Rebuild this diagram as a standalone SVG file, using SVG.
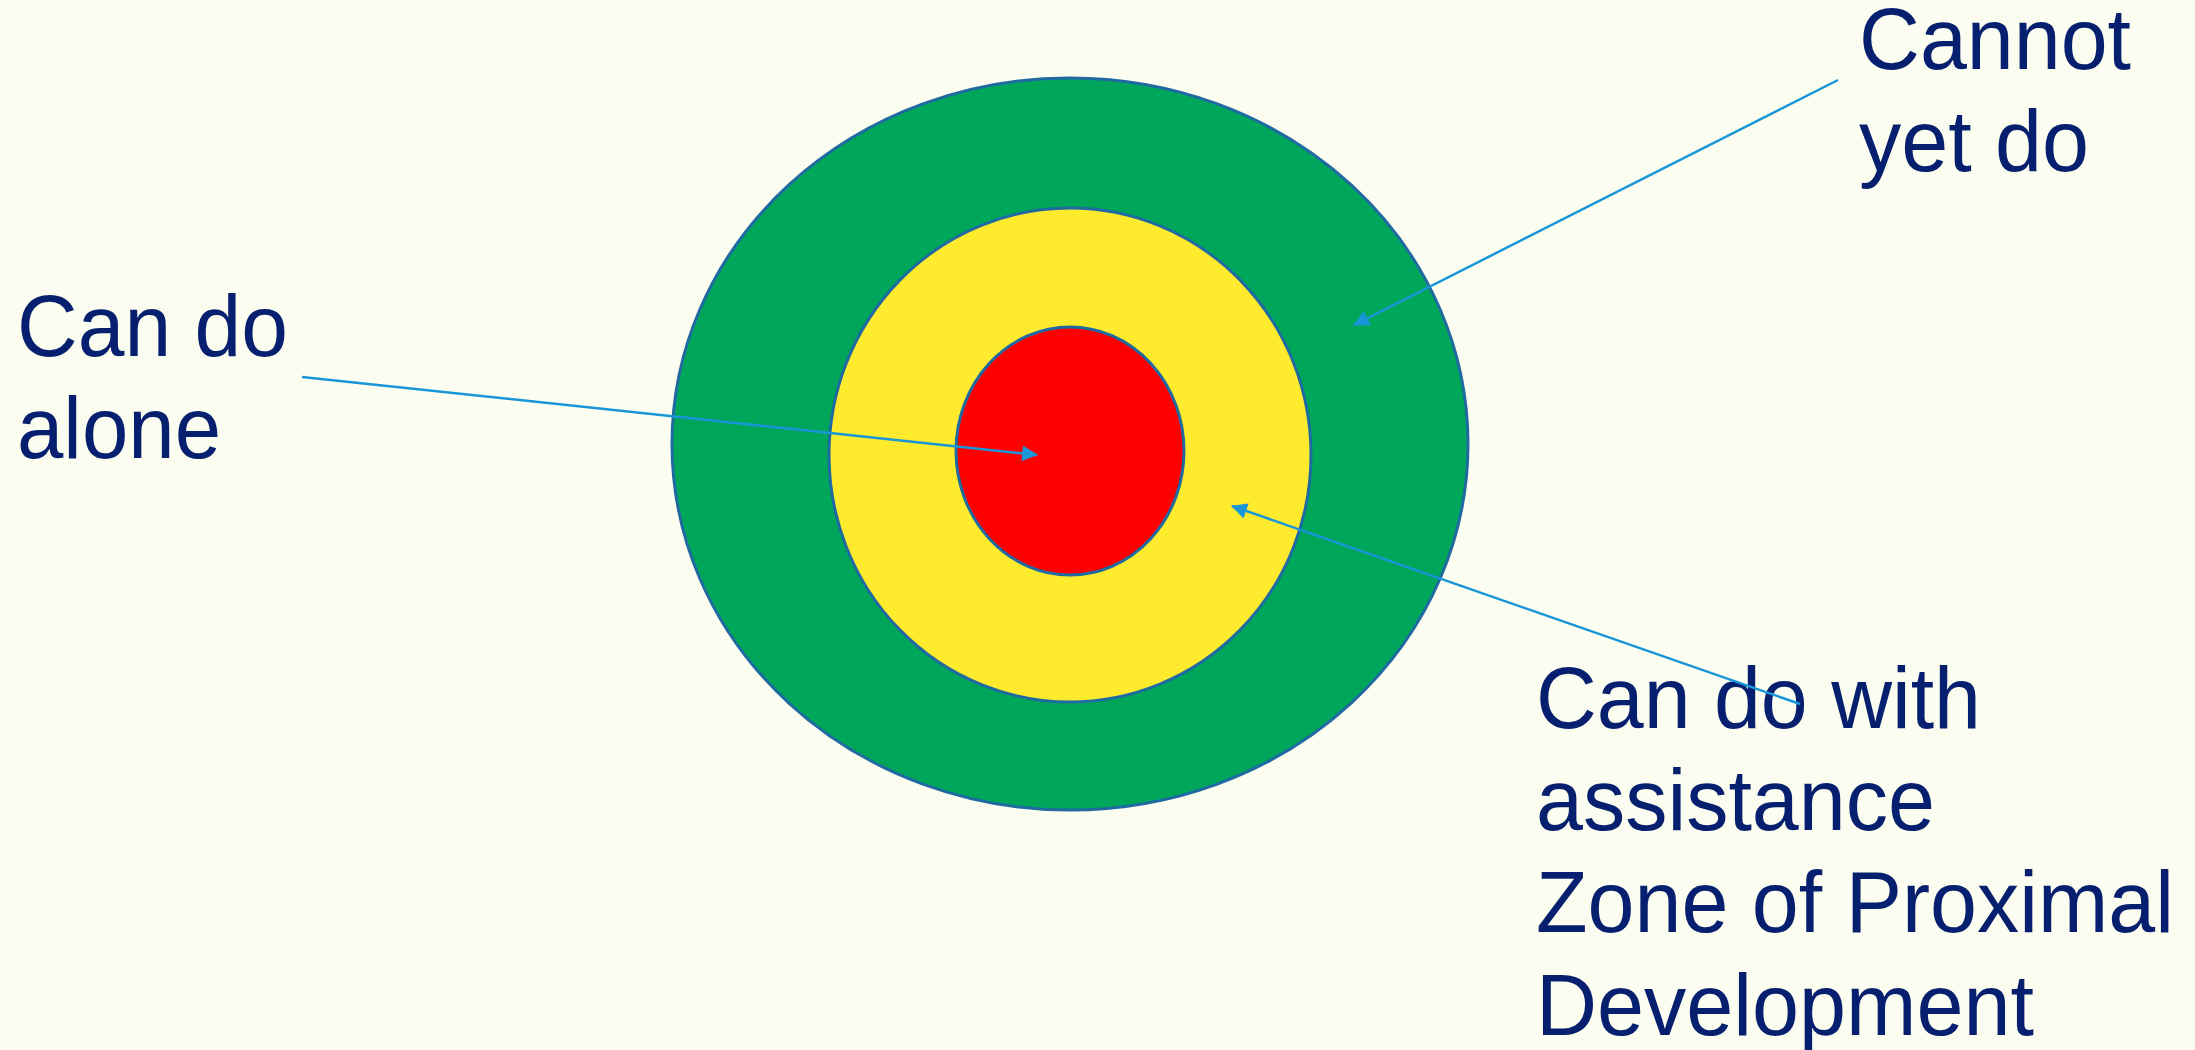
<svg xmlns="http://www.w3.org/2000/svg" width="2195" height="1050" viewBox="0 0 2195 1050">
<style>
.lbl{font-family:"Liberation Sans",Arial,sans-serif;font-size:87px;fill:#061f6e}
.ring{stroke:#1f6aa0;stroke-width:3}
.conn{stroke:#1896d8;stroke-width:2.5;fill:none}
</style>
<defs>
<marker id="ah" viewBox="0 0 16 16" refX="15" refY="8" markerWidth="16" markerHeight="16" markerUnits="userSpaceOnUse" orient="auto">
<path d="M0,0 L16,8 L0,16 Z" fill="#1896d8"/>
</marker>
</defs>
<rect width="2195" height="1050" fill="#fbfdf0"/>
<g id="outer"><ellipse class="ring" cx="1070" cy="444" rx="398" ry="366" fill="#00a75b"/></g>
<g id="middle"><ellipse class="ring" cx="1070" cy="455" rx="241" ry="247" fill="#ffeb2e"/></g>
<g id="inner"><ellipse class="ring" cx="1070" cy="451" rx="114" ry="124" fill="#ff0000"/></g>
<g id="label-alone">
<text class="lbl" x="17" y="356" textLength="271" lengthAdjust="spacingAndGlyphs">Can do</text>
<text class="lbl" x="17" y="458" textLength="204" lengthAdjust="spacingAndGlyphs">alone</text>
</g>
<g id="label-cannot">
<text class="lbl" x="1859" y="69" textLength="272" lengthAdjust="spacingAndGlyphs">Cannot</text>
<text class="lbl" x="1859" y="171" textLength="230" lengthAdjust="spacingAndGlyphs">yet do</text>
</g>
<g id="label-zpd">
<text class="lbl" x="1536" y="728" textLength="445" lengthAdjust="spacingAndGlyphs">Can do with</text>
<text class="lbl" x="1536" y="830" textLength="399" lengthAdjust="spacingAndGlyphs">assistance</text>
<text class="lbl" x="1536" y="932" textLength="638" lengthAdjust="spacingAndGlyphs">Zone of Proximal</text>
<text class="lbl" x="1536" y="1035" textLength="498" lengthAdjust="spacingAndGlyphs">Development</text>
</g>
<g id="connectors">
<line class="conn" x1="302" y1="377" x2="1037" y2="455" marker-end="url(#ah)"/>
<line class="conn" x1="1838" y1="80" x2="1354" y2="325" marker-end="url(#ah)"/>
<line class="conn" x1="1800" y1="704" x2="1232" y2="506" marker-end="url(#ah)"/>
</g>
</svg>
